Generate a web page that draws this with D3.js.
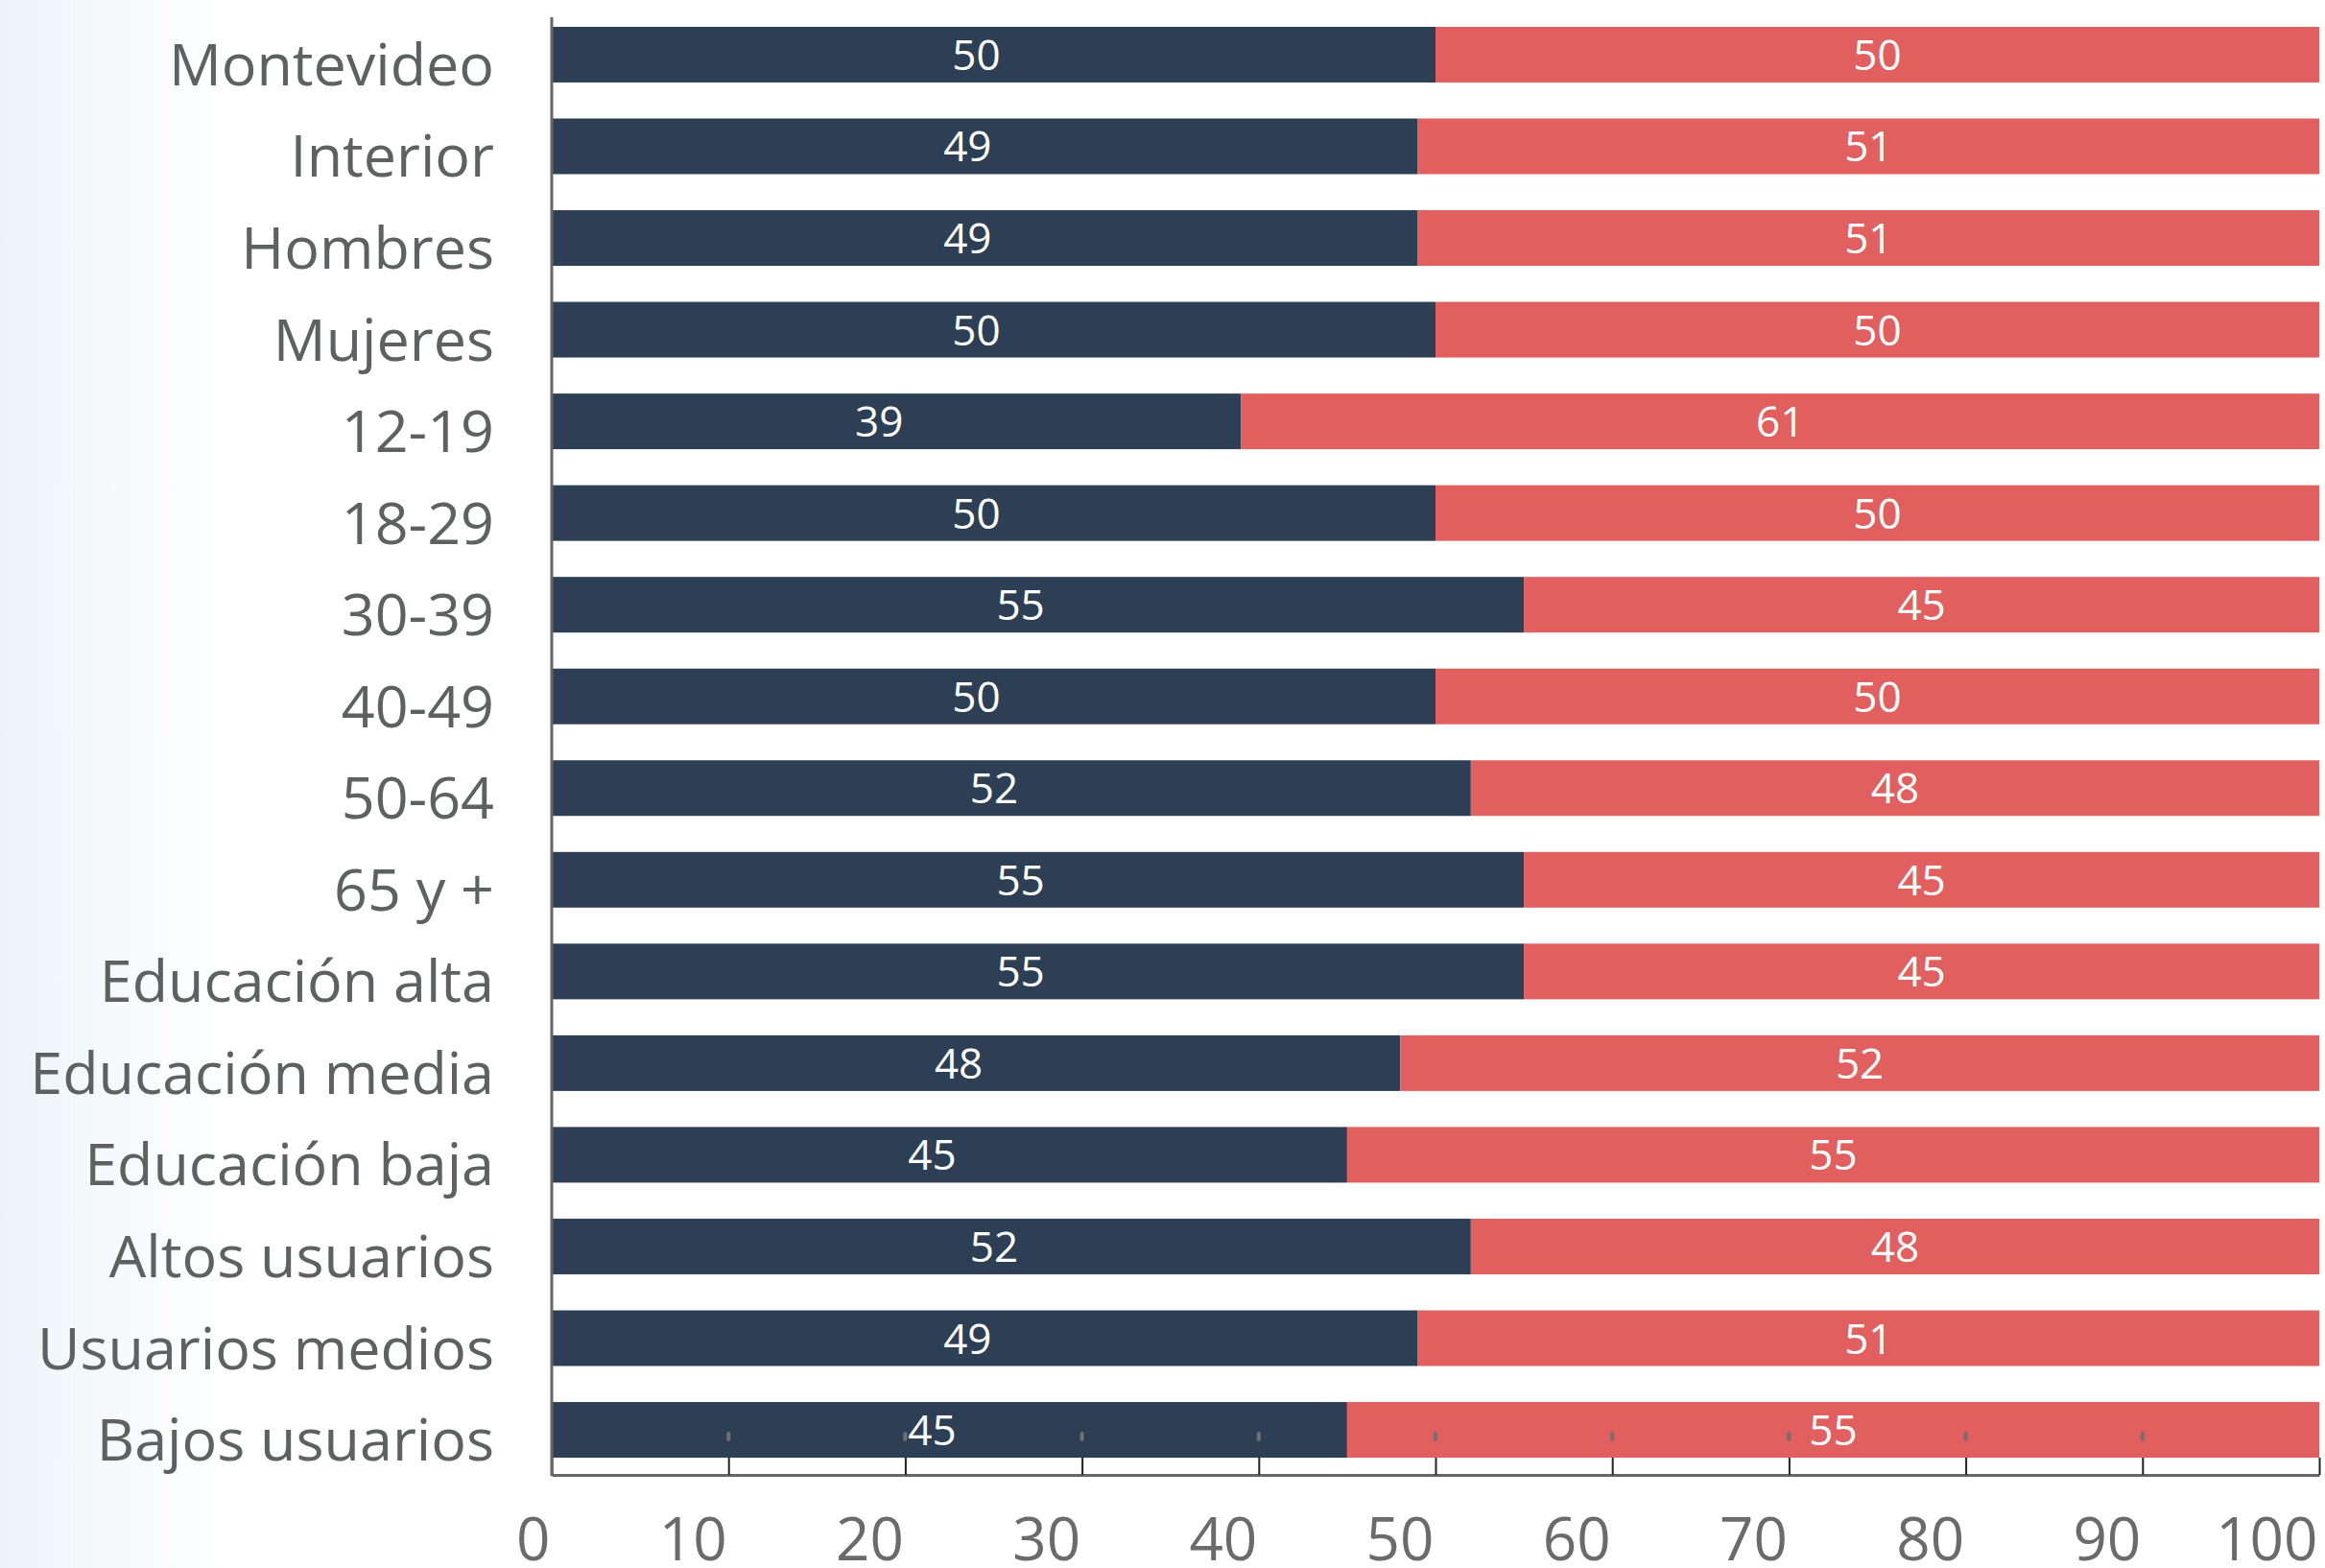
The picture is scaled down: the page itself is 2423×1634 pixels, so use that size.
<!DOCTYPE html>
<html>
<head>
<meta charset="utf-8">
<style>
body { margin: 0; background: #fff; }
svg { display: block; }
.ylabel {
  font: 61px "Open Sans", sans-serif;
  fill: #5f6161;
  text-anchor: end;
}
.val {
  font: 44px "Open Sans", sans-serif;
  fill: #fff;
  text-anchor: middle;
}
.x-axis text {
  font: 62px "Open Sans", sans-serif;
  fill: #6b6b6b;
}
</style>
</head>
<body>
<svg width="2423" height="1634"></svg>
<script src="https://d3js.org/d3.v7.min.js"></script>
<script>

var categories = ["Montevideo", "Interior", "Hombres", "Mujeres", "12-19", "18-29", "30-39", "40-49",
  "50-64", "65 y +", "Educación alta", "Educación media", "Educación baja",
  "Altos usuarios", "Usuarios medios", "Bajos usuarios"];
var darkValues = [50, 49, 49, 50, 39, 50, 55, 50, 52, 55, 55, 48, 45, 52, 49, 45];
var redValues  = [50, 51, 51, 50, 61, 50, 45, 50, 48, 45, 45, 52, 55, 48, 51, 55];
var xTicks = [0, 10, 20, 30, 40, 50, 60, 70, 80, 90, 100];

var svg = d3.select("svg");

// soft blue wash on the left edge
var defs = svg.append("defs");
var grad = defs.append("linearGradient").attr("id", "bg").attr("x1", "0").attr("x2", "1");
grad.append("stop").attr("offset", "0").attr("stop-color", "#ecf4f9");
grad.append("stop").attr("offset", "1").attr("stop-color", "#ffffff");
svg.append("rect").attr("x", 0).attr("y", 0).attr("width", 240).attr("height", 1634)
  .attr("fill", "url(#bg)");

var x = d3.scaleLinear().domain([0, 100]).range([575, 2417]);
var y = d3.scaleBand().domain(categories).range([10, 1537])
  .paddingInner(0.393).paddingOuter(0.188);

var rows = categories.map(function(c, i) {
  return {name: c, a: darkValues[i], b: redValues[i]};
});

var g = svg.append("g");

g.selectAll(".bar-a").data(rows).enter().append("rect")
  .attr("class", "bar-a")
  .attr("x", x(0))
  .attr("y", d => y(d.name))
  .attr("width", d => x(d.a) - x(0))
  .attr("height", y.bandwidth())
  .attr("fill", "#2c3f54");

g.selectAll(".bar-b").data(rows).enter().append("rect")
  .attr("class", "bar-b")
  .attr("x", d => x(d.a))
  .attr("y", d => y(d.name))
  .attr("width", d => x(d.a + d.b) - x(d.a))
  .attr("height", y.bandwidth())
  .attr("fill", "#e15f5e");

// little grey tick marks that sit inside the last bar
g.selectAll(".mark").data(xTicks.filter(t => t > 0 && t < 100)).enter().append("line")
  .attr("class", "mark")
  .attr("x1", d => x(d)).attr("x2", d => x(d))
  .attr("y1", 1494).attr("y2", 1500)
  .attr("stroke", "#707070")
  .attr("stroke-width", 4)
  .attr("stroke-linecap", "round");

g.selectAll(".val-a").data(rows).enter().append("text")
  .attr("class", "val")
  .attr("x", d => (x(0) + x(d.a)) / 2 - 18)
  .attr("y", d => y(d.name) + y.bandwidth() / 2 + 16)
  .text(d => d.a);

g.selectAll(".val-b").data(rows).enter().append("text")
  .attr("class", "val")
  .attr("x", d => (x(d.a) + x(d.a + d.b)) / 2)
  .attr("y", d => y(d.name) + y.bandwidth() / 2 + 16)
  .text(d => d.b);

svg.selectAll(".ylabel").data(categories).enter().append("text")
  .attr("class", "ylabel")
  .attr("x", 515)
  .attr("y", d => y(d) + y.bandwidth() / 2 + 32)
  .text(d => d);

var xAxis = svg.append("g")
  .attr("class", "x-axis")
  .attr("transform", "translate(0,1537)")
  .call(d3.axisBottom(x).tickValues(xTicks).tickSizeInner(-18).tickSizeOuter(0));

xAxis.select(".domain").attr("stroke", "#666").attr("stroke-width", 3);
xAxis.selectAll(".tick line").attr("stroke", "#222").attr("stroke-width", 2);
xAxis.selectAll(".tick text")
  .attr("y", 89)
  .attr("dy", null)
  .attr("dx", -2)
  .attr("text-anchor", "end");

svg.append("line")
  .attr("x1", x(0)).attr("x2", x(0))
  .attr("y1", 18).attr("y2", 1538)
  .attr("stroke", "#666")
  .attr("stroke-width", 3);

</script>
</body>
</html>
